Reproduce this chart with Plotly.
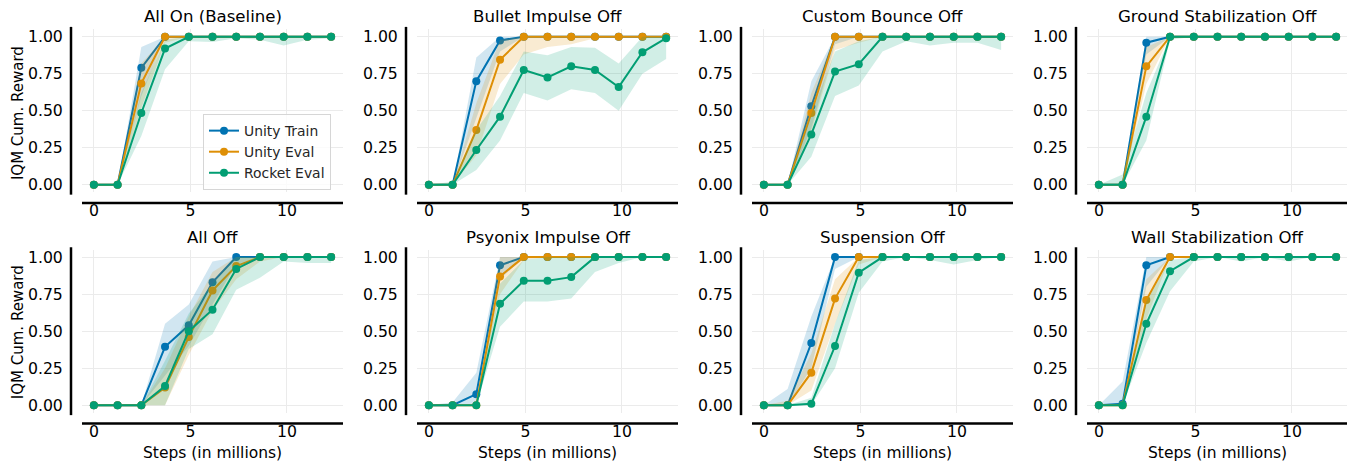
import plotly.graph_objects as go

# ---------------- data ----------------
steps = [0, 1.229, 2.458, 3.686, 4.915, 6.144, 7.373, 8.602, 9.830, 11.059, 12.288]
x_ticks = [0, 5, 10]
y_ticks = [0, 0.25, 0.5, 0.75, 1.0]
y_tick_labels = ["0.00", "0.25", "0.50", "0.75", "1.00"]

panel_titles = ["All On (Baseline)", "Bullet Impulse Off", "Custom Bounce Off", "Ground Stabilization Off",
                "All Off", "Psyonix Impulse Off", "Suspension Off", "Wall Stabilization Off"]
series_names = ["Unity Train", "Unity Eval", "Rocket Eval"]
series_colors = ["#0173b2", "#de8f05", "#029e73"]

# All On (Baseline)
p1_ut    = [0, 0, 0.79, 1, 1, 1, 1, 1, 1, 1, 1]
p1_ut_lo = [0, 0, 0.60, 1, 1, 1, 1, 1, 1, 1, 1]
p1_ut_hi = [0, 0, 0.93, 1, 1, 1, 1, 1, 1, 1, 1]
p1_ue    = [0, 0, 0.685, 1, 1, 1, 1, 1, 1, 1, 1]
p1_ue_lo = [0, 0, 0.52, 0.96, 1, 1, 1, 1, 1, 1, 1]
p1_ue_hi = [0, 0, 0.82, 1, 1, 1, 1, 1, 1, 1, 1]
p1_re    = [0, 0, 0.485, 0.92, 1, 1, 1, 1, 1, 1, 1]
p1_re_lo = [0, 0, 0.33, 0.78, 0.97, 0.965, 0.99, 0.98, 0.94, 0.98, 0.99]
p1_re_hi = [0, 0, 0.62, 0.98, 1, 1, 1, 1, 1, 1, 1]

# Bullet Impulse Off
p2_ut    = [0, 0, 0.70, 0.975, 1, 1, 1, 1, 1, 1, 1]
p2_ut_lo = [0, 0, 0.45, 0.90, 1, 1, 1, 1, 1, 1, 1]
p2_ut_hi = [0, 0, 0.86, 1, 1, 1, 1, 1, 1, 1, 1]
p2_ue    = [0, 0, 0.37, 0.845, 1, 1, 1, 1, 1, 1, 1]
p2_ue_lo = [0, 0, 0.20, 0.68, 0.88, 0.93, 0.95, 0.99, 1, 1, 1]
p2_ue_hi = [0, 0, 0.55, 0.98, 1, 1, 1, 1, 1, 1, 1]
p2_re    = [0, 0, 0.235, 0.46, 0.775, 0.725, 0.80, 0.775, 0.66, 0.895, 0.99]
p2_re_lo = [0, 0, 0.10, 0.30, 0.62, 0.57, 0.645, 0.62, 0.50, 0.75, 0.85]
p2_re_hi = [0, 0.02, 0.37, 0.60, 0.90, 0.875, 0.93, 0.925, 0.82, 1, 1]

# Custom Bounce Off
p3_ut    = [0, 0, 0.53, 1, 1, 1, 1, 1, 1, 1, 1]
p3_ut_lo = [0, 0, 0.38, 0.95, 1, 1, 1, 1, 1, 1, 1]
p3_ut_hi = [0, 0, 0.70, 1, 1, 1, 1, 1, 1, 1, 1]
p3_ue    = [0, 0, 0.485, 1, 1, 1, 1, 1, 1, 1, 1]
p3_ue_lo = [0, 0, 0.36, 0.91, 0.96, 1, 1, 1, 1, 1, 1]
p3_ue_hi = [0, 0, 0.62, 1, 1, 1, 1, 1, 1, 1, 1]
p3_re    = [0, 0, 0.34, 0.765, 0.815, 1, 1, 1, 1, 1, 1]
p3_re_lo = [0, 0, 0.19, 0.60, 0.67, 0.90, 0.97, 0.94, 0.96, 0.96, 0.91]
p3_re_hi = [0, 0, 0.48, 0.90, 0.97, 1, 1, 1, 1, 1, 1]

# Ground Stabilization Off
p4_ut    = [0, 0, 0.96, 1, 1, 1, 1, 1, 1, 1, 1]
p4_ut_lo = [0, 0, 0.88, 1, 1, 1, 1, 1, 1, 1, 1]
p4_ut_hi = [0, 0, 1, 1, 1, 1, 1, 1, 1, 1, 1]
p4_ue    = [0, 0, 0.80, 1, 1, 1, 1, 1, 1, 1, 1]
p4_ue_lo = [0, 0, 0.68, 1, 1, 1, 1, 1, 1, 1, 1]
p4_ue_hi = [0, 0, 0.93, 1, 1, 1, 1, 1, 1, 1, 1]
p4_re    = [0, 0, 0.46, 1, 1, 1, 1, 1, 1, 1, 1]
p4_re_lo = [0, 0, 0.30, 0.98, 1, 1, 1, 1, 1, 1, 1]
p4_re_hi = [0, 0.07, 0.62, 1, 1, 1, 1, 1, 1, 1, 1]

# All Off
p5_ut    = [0, 0, 0, 0.395, 0.54, 0.83, 1, 1, 1, 1, 1]
p5_ut_lo = [0, 0, 0, 0.20, 0.40, 0.68, 0.95, 1, 1, 1, 1]
p5_ut_hi = [0, 0, 0, 0.55, 0.68, 0.97, 1, 1, 1, 1, 1]
p5_ue    = [0, 0, 0, 0.12, 0.46, 0.775, 0.94, 1, 1, 1, 1]
p5_ue_lo = [0, 0, 0, 0, 0.34, 0.64, 0.85, 0.97, 1, 1, 1]
p5_ue_hi = [0, 0, 0, 0.25, 0.60, 0.90, 1, 1, 1, 1, 1]
p5_re    = [0, 0, 0, 0.13, 0.50, 0.645, 0.92, 1, 1, 1, 1]
p5_re_lo = [0, 0, 0, 0, 0.38, 0.48, 0.78, 0.86, 0.97, 0.96, 0.96]
p5_re_hi = [0, 0, 0, 0.30, 0.62, 0.82, 1, 1, 1, 1, 1]

# Psyonix Impulse Off
p6_ut    = [0, 0, 0.075, 0.945, 1, 1, 1, 1, 1, 1, 1]
p6_ut_lo = [0, 0, 0, 0.85, 1, 1, 1, 1, 1, 1, 1]
p6_ut_hi = [0, 0.02, 0.22, 1, 1, 1, 1, 1, 1, 1, 1]
p6_ue    = [0, 0, 0, 0.87, 1, 1, 1, 1, 1, 1, 1]
p6_ue_lo = [0, 0, 0, 0.75, 0.98, 1, 1, 1, 1, 1, 1]
p6_ue_hi = [0, 0, 0, 1, 1, 1, 1, 1, 1, 1, 1]
p6_re    = [0, 0, 0, 0.685, 0.84, 0.84, 0.865, 1, 1, 1, 1]
p6_re_lo = [0, 0, 0, 0.53, 0.70, 0.70, 0.72, 0.90, 0.96, 1, 1]
p6_re_hi = [0, 0, 0, 0.82, 0.98, 1, 1, 1, 1, 1, 1]

# Suspension Off
p7_ut    = [0, 0, 0.42, 1, 1, 1, 1, 1, 1, 1, 1]
p7_ut_lo = [0, 0, 0.25, 0.92, 1, 1, 1, 1, 1, 1, 1]
p7_ut_hi = [0, 0.11, 0.60, 1, 1, 1, 1, 1, 1, 1, 1]
p7_ue    = [0, 0, 0.22, 0.72, 1, 1, 1, 1, 1, 1, 1]
p7_ue_lo = [0, 0, 0.10, 0.55, 0.95, 1, 1, 1, 1, 1, 1]
p7_ue_hi = [0, 0.03, 0.35, 0.85, 1, 1, 1, 1, 1, 1, 1]
p7_re    = [0, 0, 0.01, 0.40, 0.895, 1, 1, 1, 1, 1, 1]
p7_re_lo = [0, 0, 0, 0.25, 0.76, 0.97, 1, 0.98, 0.95, 0.98, 1]
p7_re_hi = [0, 0, 0.05, 0.55, 0.98, 1, 1, 1, 1, 1, 1]

# Wall Stabilization Off
p8_ut    = [0, 0.01, 0.945, 1, 1, 1, 1, 1, 1, 1, 1]
p8_ut_lo = [0, 0, 0.80, 1, 1, 1, 1, 1, 1, 1, 1]
p8_ut_hi = [0, 0.16, 1, 1, 1, 1, 1, 1, 1, 1, 1]
p8_ue    = [0, 0, 0.71, 1, 1, 1, 1, 1, 1, 1, 1]
p8_ue_lo = [0, 0, 0.58, 1, 1, 1, 1, 1, 1, 1, 1]
p8_ue_hi = [0, 0, 0.85, 1, 1, 1, 1, 1, 1, 1, 1]
p8_re    = [0, 0, 0.55, 0.905, 1, 1, 1, 1, 1, 1, 1]
p8_re_lo = [0, 0, 0.42, 0.77, 0.97, 1, 0.97, 1, 0.97, 1, 1]
p8_re_hi = [0, 0, 0.70, 0.98, 1, 1, 1, 1, 1, 1, 1]

panels = [
    [(p1_ut, p1_ut_lo, p1_ut_hi), (p1_ue, p1_ue_lo, p1_ue_hi), (p1_re, p1_re_lo, p1_re_hi)],
    [(p2_ut, p2_ut_lo, p2_ut_hi), (p2_ue, p2_ue_lo, p2_ue_hi), (p2_re, p2_re_lo, p2_re_hi)],
    [(p3_ut, p3_ut_lo, p3_ut_hi), (p3_ue, p3_ue_lo, p3_ue_hi), (p3_re, p3_re_lo, p3_re_hi)],
    [(p4_ut, p4_ut_lo, p4_ut_hi), (p4_ue, p4_ue_lo, p4_ue_hi), (p4_re, p4_re_lo, p4_re_hi)],
    [(p5_ut, p5_ut_lo, p5_ut_hi), (p5_ue, p5_ue_lo, p5_ue_hi), (p5_re, p5_re_lo, p5_re_hi)],
    [(p6_ut, p6_ut_lo, p6_ut_hi), (p6_ue, p6_ue_lo, p6_ue_hi), (p6_re, p6_re_lo, p6_re_hi)],
    [(p7_ut, p7_ut_lo, p7_ut_hi), (p7_ue, p7_ue_lo, p7_ue_hi), (p7_re, p7_re_lo, p7_re_hi)],
    [(p8_ut, p8_ut_lo, p8_ut_hi), (p8_ue, p8_ue_lo, p8_ue_hi), (p8_re, p8_re_lo, p8_re_hi)],
]

# ---------------- layout geometry ----------------
# the page body keeps its default 8px margin, so every pixel position is shifted by OFF
OFF = 8
W, H = 1355 - OFF, 470 - OFF
FONT = "DejaVu Sans"
TICK_SIZE = 15.7
TITLE_SIZE = 16.6
LABEL_SIZE = 15.5
YLABEL_SIZE = 15.0
LEGEND_SIZE = 13.9

col_left_px = [82 - OFF, 417 - OFF, 752 - OFF, 1087 - OFF]
ax_w_px = 261
row_px = [(27.5 - OFF, 191.8 - OFF), (249.8 - OFF, 414.2 - OFF)]  # (top, bottom)
title_y_px = [15.0 - OFF, 237.5 - OFF]
xlabel_y_px = 455 - OFF
ylabel_y_px = [112 - OFF, 333 - OFF]
spine_off_px = 11


def rgba(hexc, a):
    hexc = hexc.lstrip("#")
    r, g, b = int(hexc[0:2], 16), int(hexc[2:4], 16), int(hexc[4:6], 16)
    return f"rgba({r},{g},{b},{a})"


fig = go.Figure()
layout = dict(
    width=W, height=H, margin=dict(l=0, r=0, t=0, b=0, pad=0),
    paper_bgcolor="white", plot_bgcolor="white",
    font=dict(family=FONT, size=TICK_SIZE, color="black"),
    showlegend=True,
    legend=dict(x=(203 - OFF) / W, y=1 - (113 - OFF) / H, xanchor="left", yanchor="top",
                bordercolor="#d6d6d6", borderwidth=1, bgcolor="rgba(255,255,255,0.8)",
                font=dict(family=FONT, size=LEGEND_SIZE, color="#262626"), tracegroupgap=0,
                itemwidth=30),
)
shapes = []
annotations = []

for k in range(8):
    r, c = divmod(k, 4)
    idx = "" if k == 0 else str(k + 1)
    xa, ya = "x" + idx, "y" + idx
    x0 = col_left_px[c] / W
    x1 = (col_left_px[c] + ax_w_px) / W
    top, bot = row_px[r]
    y0 = 1 - bot / H
    y1 = 1 - top / H
    layout["xaxis" + idx] = dict(
        domain=[x0, x1], anchor=ya, range=[-0.614, 12.902],
        tickvals=x_ticks, ticktext=[str(v) for v in x_ticks],
        showgrid=True, gridcolor="#ebebeb", gridwidth=1,
        showline=False, zeroline=False,
        ticks="outside", ticklen=4, tickcolor="rgba(0,0,0,0)",
        tickfont=dict(family=FONT, size=TICK_SIZE, color="black"),
        fixedrange=True,
    )
    layout["yaxis" + idx] = dict(
        domain=[y0, y1], anchor=xa, range=[-0.05, 1.05],
        tickvals=y_ticks, ticktext=y_tick_labels,
        showgrid=True, gridcolor="#ebebeb", gridwidth=1,
        showline=False, zeroline=False,
        ticks="outside", ticklen=15, tickcolor="rgba(0,0,0,0)",
        tickfont=dict(family=FONT, size=TICK_SIZE, color="black"),
        fixedrange=True,
    )
    # offset spines
    ax_h_px = bot - top
    shapes.append(dict(type="line", xref=xa + " domain", yref=ya + " domain",
                       x0=-spine_off_px / ax_w_px, x1=-spine_off_px / ax_w_px, y0=-0.015, y1=1.015,
                       line=dict(color="black", width=2.5)))
    shapes.append(dict(type="line", xref=xa + " domain", yref=ya + " domain",
                       x0=0, x1=1, y0=-spine_off_px / ax_h_px, y1=-spine_off_px / ax_h_px,
                       line=dict(color="black", width=2.5)))
    # title
    annotations.append(dict(text=panel_titles[k], xref="paper", yref="paper",
                            x=(x0 + x1) / 2, y=1 - title_y_px[r] / H, xanchor="center", yanchor="middle",
                            showarrow=False, font=dict(family=FONT, size=TITLE_SIZE, color="black")))
    if r == 1:
        annotations.append(dict(text="Steps (in millions)", xref="paper", yref="paper",
                                x=(x0 + x1) / 2, y=1 - xlabel_y_px / H, xanchor="center", yanchor="middle",
                                showarrow=False, font=dict(family=FONT, size=LABEL_SIZE, color="black")))
    if c == 0:
        annotations.append(dict(text="IQM Cum. Reward", xref="paper", yref="paper", textangle=-90,
                                x=0, y=1 - ylabel_y_px[r] / H, xanchor="left", yanchor="middle",
                                borderpad=0,
                                showarrow=False, font=dict(family=FONT, size=YLABEL_SIZE, color="black")))

    for s, (mean, lo, hi) in enumerate(panels[k]):
        col = series_colors[s]
        fig.add_trace(go.Scatter(
            x=steps + steps[::-1], y=hi + lo[::-1], xaxis=xa, yaxis=ya,
            fill="toself", fillcolor=rgba(col, 0.18), line=dict(width=0),
            mode="lines", hoverinfo="skip", showlegend=False))
        fig.add_trace(go.Scatter(
            x=steps, y=mean, xaxis=xa, yaxis=ya, mode="lines+markers",
            name=series_names[s], legendgroup=series_names[s], showlegend=(k == 0),
            line=dict(color=col, width=2), marker=dict(color=col, size=8)))

layout["shapes"] = shapes
layout["annotations"] = annotations
fig.update_layout(**layout)
fig.write_html("out.html")
